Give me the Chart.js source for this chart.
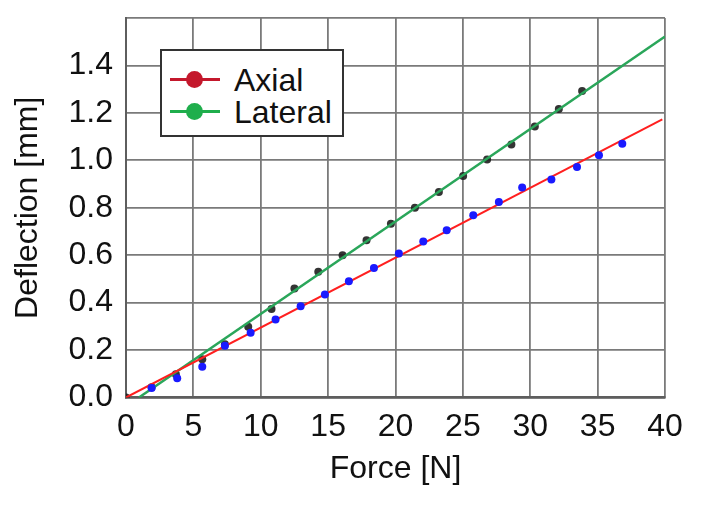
<!DOCTYPE html>
<html>
<head>
<meta charset="utf-8">
<script src="https://cdn.jsdelivr.net/npm/chart.js@4/dist/chart.umd.min.js"></script>
<style>
    body { margin: 0; background: #fff; }
    #wrap { position: relative; width: 701px; height: 507px; }
    #legend {
        position: absolute; left: 160px; top: 49px; width: 180px; height: 84px;
        border: 2px solid #333; background: #fff;
        font-family: 'Liberation Sans', Arial, sans-serif; font-size: 32px; color: #111;
    }
    .item { position: absolute; left: 8px; height: 32px; width: 170px; }
    .item .ln { position: absolute; left: 0; top: 14px; width: 50px; height: 3px; }
    .item .dot { position: absolute; left: 16px; top: 7px; width: 17px; height: 17px; border-radius: 50%; }
    .item span { position: absolute; left: 64px; top: -3px; line-height: 38px; }
</style>
</head>
<body>
<div id="wrap">
    <canvas id="chart" width="701" height="507"></canvas>
    <div id="legend"></div>
</div>
<script>
// Measured points (Force [N] vs Deflection [mm])
const forceAxial = [1.9, 3.8, 5.66, 7.34, 9.25, 11.1, 12.96, 14.76, 16.54, 18.4, 20.25, 22.06, 23.8, 25.77, 27.67, 29.4, 31.57, 33.47, 35.1, 36.83];
const deflAxial = [0.04, 0.081, 0.13, 0.218, 0.273, 0.329, 0.385, 0.434, 0.49, 0.546, 0.607, 0.658, 0.705, 0.768, 0.824, 0.885, 0.919, 0.972, 1.021, 1.07];

const forceLateral = [0, 1.9, 3.7, 5.66, 7.34, 9.07, 10.8, 12.5, 14.27, 16.07, 17.85, 19.66, 21.44, 23.22, 25.02, 26.8, 28.6, 30.34, 32.12, 33.85];
const deflLateral = [0, 0.043, 0.098, 0.161, 0.224, 0.298, 0.373, 0.46, 0.53, 0.6, 0.663, 0.733, 0.80, 0.866, 0.934, 1.003, 1.067, 1.143, 1.216, 1.292];

// Linear fits (end points)
const fitAxialX = [0, 39.8];
const fitAxialY = [0, 1.173];
const fitLateralX = [0.96, 40];
const fitLateralY = [0, 1.522];

const seriesNames = ['Axial', 'Lateral'];
const legendColors = ['#c4182c', '#1fae4c'];

const xTicks = [0, 5, 10, 15, 20, 25, 30, 35, 40];
const yTicks = [0, 0.2, 0.4, 0.6, 0.8, 1.0, 1.2, 1.4, 1.6];

const toXY = (xs, ys) => xs.map((x, i) => ({ x: x, y: ys[i] }));

const font = { family: "'Liberation Sans', Arial, sans-serif", size: 32 };
const textColor = '#111';
const gridColor = '#7a7a7a';

const ctx = document.getElementById('chart').getContext('2d');
new Chart(ctx, {
    type: 'scatter',
    data: {
        datasets: [
            {
                label: 'Axial data',
                data: toXY(forceAxial, deflAxial),
                backgroundColor: '#1a1aff',
                borderWidth: 0,
                pointRadius: 4
            },
            {
                label: seriesNames[0],
                data: toXY(fitAxialX, fitAxialY),
                showLine: true,
                borderColor: '#ff1f1f',
                borderWidth: 2,
                pointRadius: 0
            },
            {
                label: seriesNames[1],
                data: toXY(fitLateralX, fitLateralY),
                showLine: true,
                borderColor: '#2aa65a',
                borderWidth: 2.5,
                pointRadius: 0
            },
            {
                label: 'Lateral data',
                data: toXY(forceLateral, deflLateral),
                backgroundColor: 'rgba(30, 30, 30, 0.9)',
                borderWidth: 0,
                pointRadius: 4
            }
        ]
    },
    options: {
        responsive: false,
        animation: false,
        layout: { padding: { top: 18, right: 36, bottom: 0, left: 0 } },
        plugins: {
            legend: { display: false },
            tooltip: { enabled: false }
        },
        scales: {
            x: {
                type: 'linear',
                min: xTicks[0],
                max: xTicks[xTicks.length - 1],
                afterBuildTicks: (scale) => { scale.ticks = xTicks.map(v => ({ value: v })); },
                afterFit: (scale) => {
                    scale.height = 109.5;
                    scale.paddingLeft = 0;
                    scale.paddingRight = 0;
                },
                grid: { color: gridColor, lineWidth: 1.8, drawTicks: false },
                border: { color: '#5e5e5e', width: 2.5 },
                ticks: { color: textColor, font: font, padding: 10, maxRotation: 0 },
                title: { display: true, text: 'Force [N]', color: textColor, font: font, padding: { top: 0, bottom: 19 } }
            },
            y: {
                type: 'linear',
                min: yTicks[0],
                max: yTicks[yTicks.length - 1],
                afterBuildTicks: (scale) => { scale.ticks = yTicks.map(v => ({ value: v })); },
                afterFit: (scale) => {
                    scale.width = 126;
                    scale.paddingTop = 0;
                    scale.paddingBottom = 0;
                },
                grid: { color: gridColor, lineWidth: 1.8, drawTicks: false },
                border: { color: '#5e5e5e', width: 2 },
                ticks: {
                    color: textColor, font: font, padding: 13,
                    callback: (v) => (v >= 1.59 ? '' : v.toFixed(1))
                },
                title: { display: true, text: 'Deflection [mm]', color: textColor, font: font, padding: { top: 9, bottom: 0 } }
            }
        }
    }
});

// HTML legend with line + dot markers
const legendEl = document.getElementById('legend');
seriesNames.forEach((name, i) => {
    const item = document.createElement('div');
    item.className = 'item';
    item.style.top = (i === 0 ? 13 : 45) + 'px';
    item.innerHTML = `<div class="ln" style="background:${legendColors[i]}"></div>` +
        `<div class="dot" style="background:${legendColors[i]}"></div><span>${name}</span>`;
    legendEl.appendChild(item);
});
</script>
</body>
</html>
